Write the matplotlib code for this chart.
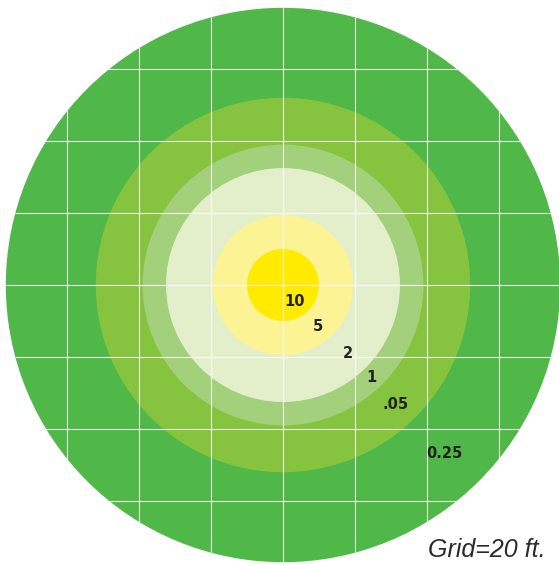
import matplotlib
matplotlib.use("Agg")
import matplotlib.pyplot as plt
from matplotlib.patches import Circle
import numpy as np

# concentration zones, outermost first (radius in ft)
radii = [77, 52, 39, 32.5, 19.5, 10]
colors = ["#4fb848", "#86c440", "#a3d07a", "#e3efcb", "#fbf394", "#ffeb00"]

# contour labels and where they sit (ft from center)
labels = ["10", "5", "2", "1", ".05", "0.25"]
label_x = [3.3, 9.7, 18.1, 24.7, 31.4, 44.7]
label_y = [-4.7, -11.4, -18.9, -25.6, -33.3, -46.7]

grid_step = 20

fig = plt.figure(figsize=(5.59, 5.64), dpi=100)
ax = fig.add_axes([0, 0, 1, 1])
ax.set_xlim(-283 / 3.6, (559 - 283) / 3.6)
ax.set_ylim(-(564 - 285) / 3.6, 285 / 3.6)
ax.set_aspect("equal")
ax.axis("off")

for r, c in zip(radii, colors):
    ax.add_patch(Circle((0, 0), r, facecolor=c, edgecolor="none"))

# grid, clipped to the outer circle
clip = Circle((0, 0), radii[0], transform=ax.transData)
ticks = np.arange(-60, 61, grid_step)
for t in ticks:
    for ln in ax.plot([t, t], [-90, 90], color="white", lw=0.8, alpha=0.85):
        ln.set_clip_path(clip)
    for ln in ax.plot([-90, 90], [t, t], color="white", lw=0.8, alpha=0.85):
        ln.set_clip_path(clip)

for s, x, y in zip(labels, label_x, label_y):
    ax.text(x, y, s, ha="center", va="center", fontsize=10.5, fontweight="bold",
            color="#222222")

fig.text(0.976, 0.004, "Grid=20 ft.", ha="right", va="bottom", fontsize=18,
         style="italic", family="Liberation Sans", color="#2b2b2b")

fig.savefig("out.png", dpi=100)
